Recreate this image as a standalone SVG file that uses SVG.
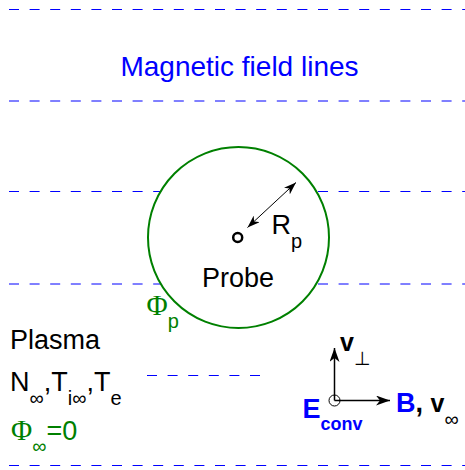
<svg xmlns="http://www.w3.org/2000/svg" width="465" height="470" viewBox="0 0 465 470">
  <style>
    .fl { stroke: #0000ff; stroke-width: 1; stroke-dasharray: 10 10.6; fill: none; }
    .t { font-family: "Liberation Sans", Arial, "DejaVu Sans", sans-serif; }
    .serif { font-family: "Liberation Serif", "Times New Roman", serif; }
    .blk { fill: #000000; }
    .grn { fill: #008000; }
    .blu { fill: #0000ff; }
    .b { font-weight: bold; }
    .arr { stroke: #000000; fill: none; }
  </style>
  <defs>
    <marker id="ah" viewBox="0 0 14 10" refX="14" refY="5" markerWidth="14" markerHeight="10" orient="auto-start-reverse" markerUnits="userSpaceOnUse">
      <path d="M0,0 L14,5 L0,10 L4,5 z" fill="#000000"/>
    </marker>
    <marker id="ahs" viewBox="0 0 14 10" refX="14" refY="5" markerWidth="13" markerHeight="9" orient="auto-start-reverse" markerUnits="userSpaceOnUse">
      <path d="M0,0 L14,5 L0,10 L4,5 z" fill="#000000"/>
    </marker>
  </defs>
  <rect width="465" height="470" fill="#ffffff"/>

  <g id="field-lines">
    <line class="fl" stroke="#0000ff" x1="9" y1="9.5" x2="465" y2="9.5"/>
    <line class="fl" stroke="#0000ff" x1="9" y1="101" x2="465" y2="101"/>
    <line class="fl" stroke="#0000ff" x1="9" y1="191.5" x2="465" y2="191.5"/>
    <line class="fl" stroke="#0000ff" x1="9" y1="284" x2="465" y2="284"/>
    <line class="fl" stroke="#0000ff" x1="147" y1="375.5" x2="265" y2="375.5"/>
    <line class="fl" stroke="#0000ff" x1="9" y1="465.5" x2="465" y2="465.5"/>
  </g>

  <g id="title">
    <text class="t blu" x="239.5" y="76" font-size="28" text-anchor="middle">Magnetic field lines</text>
  </g>

  <g id="probe">
    <circle cx="238.5" cy="237.5" r="90.5" fill="#ffffff" stroke="#008000" stroke-width="2"/>
    <circle cx="237.7" cy="237.5" r="4.5" fill="#ffffff" stroke="#000000" stroke-width="2.5"/>
    <text class="t blk" x="238" y="287" font-size="27" text-anchor="middle">Probe</text>
    <text class="t blk" x="271.5" y="233.5" font-size="27">R<tspan font-size="20" dy="14">p</tspan></text>
  </g>

  <g id="probe-potential">
    <text class="grn" x="146.5" y="314.5"><tspan class="serif" font-size="29">Φ</tspan><tspan class="t" font-size="20" dy="13">p</tspan></text>
  </g>

  <g id="plasma">
    <text class="t blk" x="10" y="349" font-size="27">Plasma</text>
    <text class="t blk" x="10" y="391" font-size="27">N<tspan font-size="20" dy="14">∞</tspan><tspan dy="-14">,T</tspan><tspan font-size="20" dy="14">i∞</tspan><tspan dy="-14">,T</tspan><tspan font-size="20" dy="14">e</tspan></text>
    <text class="grn" x="11" y="440"><tspan class="serif" font-size="29">Φ</tspan><tspan class="t" font-size="20" dy="13">∞</tspan><tspan class="t" font-size="27" dy="-13">=0</tspan></text>
  </g>

  <g id="frame">
    <circle cx="334.5" cy="400.5" r="5.5" fill="none" stroke="#000000" stroke-width="1"/>
    <text class="t blu b" x="302.5" y="418" font-size="27">E<tspan font-size="18" dy="12">conv</tspan></text>
    <text class="t blk" x="340" y="351"><tspan class="b" font-size="25">v</tspan><tspan font-size="19" dy="14">⊥</tspan></text>
    <text class="t b" x="396" y="412" font-size="27"><tspan class="blu">B</tspan><tspan class="blk">, </tspan><tspan class="blk" font-size="25">v</tspan><tspan class="blk" font-weight="normal" font-size="20" dy="14">∞</tspan></text>
  </g>

  <g id="connectors">
    <line class="arr" x1="247.5" y1="227.5" x2="296" y2="182.5" stroke-width="1" marker-start="url(#ahs)" marker-end="url(#ahs)"/>
    <line class="arr" x1="334.5" y1="400.5" x2="334.5" y2="348" stroke-width="1.5" marker-end="url(#ah)"/>
    <line class="arr" x1="334.5" y1="400.5" x2="390" y2="400.5" stroke-width="1.5" marker-end="url(#ah)"/>
  </g>
</svg>
